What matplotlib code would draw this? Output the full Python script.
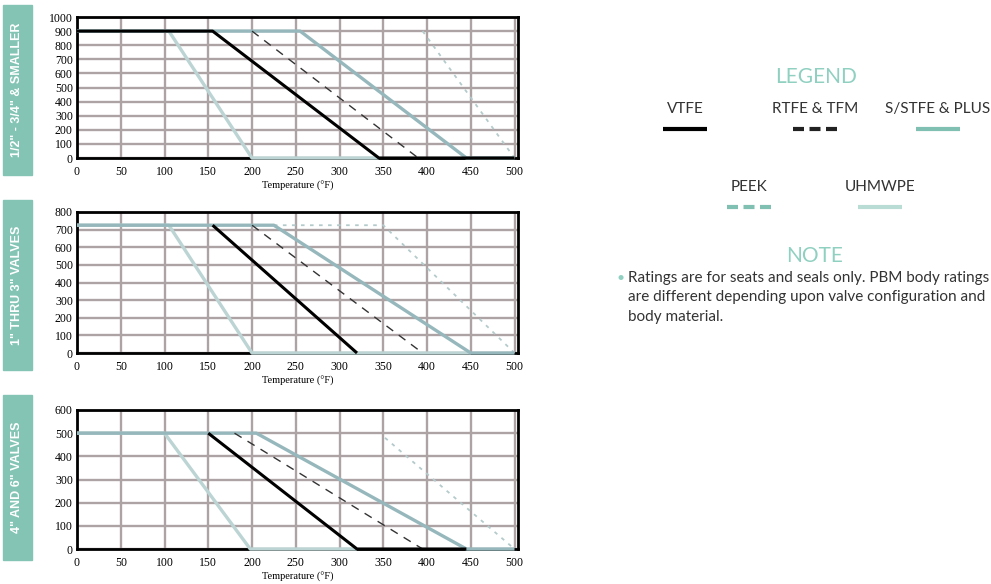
import matplotlib
matplotlib.use("Agg")
import matplotlib.pyplot as plt

# pressure (psi) vs temperature (F) ratings
panel_titles = ['1/2" - 3/4" & SMALLER', '1" THRU 3" VALVES', '4" AND 6" VALVES']
y_max = [1000, 800, 600]

# panel 1 : 1/2" - 3/4" & smaller
p1_vtfe_t = [0, 155, 345, 500]
p1_vtfe_p = [900, 900, 0, 0]
p1_rtfe_t = [200, 390]
p1_rtfe_p = [900, 0]
p1_stfe_t = [0, 255, 445, 500]
p1_stfe_p = [900, 900, 0, 0]
p1_peek_t = [395, 500]
p1_peek_p = [900, 0]
p1_uhmw_t = [0, 105, 200, 345]
p1_uhmw_p = [900, 900, 0, 0]

# panel 2 : 1" thru 3"
p2_vtfe_t = [155, 320]
p2_vtfe_p = [725, 0]
p2_rtfe_t = [200, 395]
p2_rtfe_p = [725, 0]
p2_stfe_t = [0, 225, 450, 500]
p2_stfe_p = [725, 725, 0, 0]
p2_peek_t = [225, 350, 500]
p2_peek_p = [725, 725, 0]
p2_uhmw_t = [0, 105, 200, 450]
p2_uhmw_p = [725, 725, 0, 0]

# panel 3 : 4" and 6"
p3_vtfe_t = [150, 320, 445]
p3_vtfe_p = [500, 0, 0]
p3_rtfe_t = [180, 395]
p3_rtfe_p = [500, 0]
p3_stfe_t = [0, 205, 445, 500]
p3_stfe_p = [500, 500, 0, 0]
p3_peek_t = [352, 500]
p3_peek_p = [480, 0]
p3_uhmw_t = [0, 100, 198, 320]
p3_uhmw_p = [500, 500, 0, 0]

panels = [
    dict(vtfe=(p1_vtfe_t, p1_vtfe_p), rtfe=(p1_rtfe_t, p1_rtfe_p), stfe=(p1_stfe_t, p1_stfe_p),
         peek=(p1_peek_t, p1_peek_p), uhmw=(p1_uhmw_t, p1_uhmw_p)),
    dict(vtfe=(p2_vtfe_t, p2_vtfe_p), rtfe=(p2_rtfe_t, p2_rtfe_p), stfe=(p2_stfe_t, p2_stfe_p),
         peek=(p2_peek_t, p2_peek_p), uhmw=(p2_uhmw_t, p2_uhmw_p)),
    dict(vtfe=(p3_vtfe_t, p3_vtfe_p), rtfe=(p3_rtfe_t, p3_rtfe_p), stfe=(p3_stfe_t, p3_stfe_p),
         peek=(p3_peek_t, p3_peek_p), uhmw=(p3_uhmw_t, p3_uhmw_p)),
]

W, H = 991, 584
TEAL = "#84c4b4"
C_STFE = "#96b8bc"
C_UHMW = "#bcd5d4"
C_PEEK = "#b4cacb"
GRID = "#ada3a5"

styles = {
    "uhmw": dict(color=C_UHMW, lw=2.4, ls="-", zorder=3),
    "peek": dict(color=C_PEEK, lw=1.3, ls=(0, (2, 3)), zorder=3),
    "stfe": dict(color=C_STFE, lw=2.4, ls="-", zorder=4),
    "rtfe": dict(color="#333333", lw=1.0, ls=(0, (6, 5)), zorder=5),
    "vtfe": dict(color="black", lw=2.2, ls="-", zorder=6),
}

fig = plt.figure(figsize=(W / 100, H / 100), dpi=100)

# axes boxes in pixels: left, top, right, bottom
boxes = [(77, 17, 518, 158), (77, 212, 518, 353), (77, 410, 518, 549)]
label_boxes = [(3, 5, 32, 175), (3, 200, 32, 370), (3, 395, 32, 560)]

for i, (l, t, r, b) in enumerate(boxes):
    ax = fig.add_axes([l / W, 1 - b / H, (r - l) / W, (b - t) / H])
    ax.set_xlim(0, 504)
    ax.set_ylim(0, y_max[i])
    ax.set_xticks(range(0, 501, 50))
    ax.set_yticks(range(0, y_max[i] + 1, 100))
    ax.grid(True, color=GRID, lw=1.7)
    ax.set_axisbelow(True)
    ax.tick_params(length=0, labelsize=8.5)
    ax.tick_params(axis="x", pad=6)
    ax.tick_params(axis="y", pad=3)
    for lab in ax.get_xticklabels() + ax.get_yticklabels():
        lab.set_family("Liberation Serif")
    for s in ax.spines.values():
        s.set_linewidth(2.0)
        s.set_color("black")
    ax.set_xlabel("Temperature (\u00b0F)", family="Liberation Serif", fontsize=7.5, labelpad=2)
    for key in ["uhmw", "peek", "stfe", "rtfe", "vtfe"]:
        tt, pp = panels[i][key]
        ax.plot(tt, pp, clip_on=False, solid_capstyle="butt", **styles[key])

    # teal side label
    lx0, ly0, lx1, ly1 = label_boxes[i]
    fig.patches.append(plt.Rectangle((lx0 / W, 1 - ly1 / H), (lx1 - lx0) / W, (ly1 - ly0) / H,
                                     transform=fig.transFigure, color=TEAL, zorder=0))
    fig.text((lx0 + lx1) / 2 / W, 1 - (ly0 + ly1) / 2 / H, panel_titles[i], rotation=90,
             ha="center", va="center", color="white", fontsize=9, fontweight="bold",
             family="Liberation Sans")

# legend block
LEG_TEAL = "#8fd0c0"
fig.text(816 / W, 1 - 77 / H, "LEGEND", ha="center", va="center", color=LEG_TEAL,
         fontsize=15, family="Lato")

legend_items = [
    ("VTFE", 685, 109, "black", "-"),
    ("RTFE & TFM", 815, 109, "#222222", (0, (2.64, 1.32))),
    ("S/STFE & PLUS", 938, 109, "#7fc0b2", "-"),
    ("PEEK", 749, 187, "#7fc0b2", (0, (2.64, 1.32))),
    ("UHMWPE", 880, 187, "#b9ddd4", "-"),
]
for name, cx, cy, col, ls in legend_items:
    fig.text(cx / W, 1 - cy / H, name, ha="center", va="center", color="#333333",
             fontsize=11, family="Lato")
    fig.add_artist(plt.Line2D([(cx - 22) / W, (cx + 22) / W], [1 - (cy + 20) / H] * 2,
                              color=col, lw=3, ls=ls, transform=fig.transFigure,
                              solid_capstyle="butt", dash_capstyle="butt"))

fig.text(815 / W, 1 - 256 / H, "NOTE", ha="center", va="center", color=LEG_TEAL,
         fontsize=15, family="Lato")
fig.text(616 / W, 1 - 278 / H, "\u2022", ha="left", va="center", color=LEG_TEAL,
         fontsize=10, family="Lato")
note_lines = ["Ratings are for seats and seals only. PBM body ratings",
              "are different depending upon valve configuration and",
              "body material."]
for k, line in enumerate(note_lines):
    fig.text(628 / W, 1 - (278 + 19.5 * k) / H, line, ha="left", va="center",
             color="#333333", fontsize=11, family="Lato")

fig.savefig("out.png", dpi=100)
